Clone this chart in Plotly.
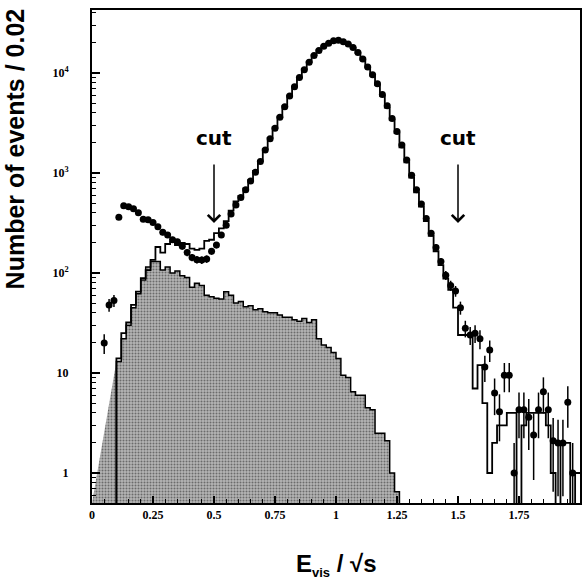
import numpy as np
import plotly.graph_objects as go

# ---------------- data ----------------
BIN = 0.02

# Data points: bin centres and counts
data_x = [0.05, 0.07, 0.09, 0.11, 0.13, 0.15, 0.17, 0.19, 0.21, 0.23, 0.25, 0.27, 0.29,
          0.31, 0.33, 0.35, 0.37, 0.39, 0.41, 0.43, 0.45, 0.47, 0.49, 0.51, 0.53, 0.55,
          0.57, 0.59, 0.61, 0.63, 0.65, 0.67, 0.69, 0.71, 0.73, 0.75, 0.77, 0.79, 0.81,
          0.83, 0.85, 0.87, 0.89, 0.91, 0.93, 0.95, 0.97, 0.99, 1.01, 1.03, 1.05, 1.07,
          1.09, 1.11, 1.13, 1.15, 1.17, 1.19, 1.21, 1.23, 1.25, 1.27, 1.29, 1.31, 1.33,
          1.35, 1.37, 1.39, 1.41, 1.43, 1.45, 1.47, 1.49, 1.51, 1.53, 1.55, 1.57, 1.59,
          1.61, 1.63, 1.65, 1.67, 1.69, 1.71, 1.73, 1.75, 1.77, 1.79, 1.81, 1.83, 1.85,
          1.87, 1.89, 1.91, 1.93, 1.95, 1.97]
data_y = [20, 48, 53, 360, 470, 460, 440, 400, 345, 340, 320, 290, 255,
          240, 215, 205, 185, 160, 143, 136, 135, 138, 165, 190, 240, 300,
          390, 480, 570, 680, 830, 1020, 1300, 1700, 2200, 2800, 3600, 4600, 5900,
          7300, 9000, 10800, 12800, 15000, 16800, 18500, 19800, 21000, 21200, 20500, 19500, 18000,
          16000, 13800, 11500, 9600, 7800, 6100, 4700, 3500, 2600, 1900, 1350, 950, 680,
          490, 350, 250, 180, 130, 95, 75, 66, 45, 28, 24, 25, 22,
          11.5, 17, 6.3, 4.1, 9.5, 9.5, 1, 4.3, 4.3, 3.6, 2.4, 4.3, 6.5,
          4.3, 2.1, 2, 2, 5.1, 1]

# Monte Carlo total: bin left edges and contents
mc_left = [round(0.10 + BIN * i, 2) for i in range(95)]
mc_y = [14, 25, 32, 48, 65, 89, 107, 135, 182, 160, 195, 205, 190, 200, 195, 175, 170, 175,
        210, 215, 250, 280, 330, 420, 520,
        590, 700, 850, 1050, 1320, 1720, 2250, 2850, 3650, 4650, 5950, 7300, 9000, 10900,
        12900, 15100, 16900, 18600, 19900, 21000, 21100, 20400, 19400, 17800, 15800, 13600,
        11400, 9400, 7600, 5900, 4500, 3400, 2500, 1800, 1280, 900, 640, 460, 330, 235, 165,
        120, 88, 68, 45, 24, 24, 24, 7, 12, 5, 1, 2, 3, 3, 4, 4, 0, 3, 4, 4, 4, 4, 3, 1, 0,
        2, 2, 0, 1]

# Background (shaded): leading ramp then histogram bins
bkg_ramp_x = [0.0, 0.10]
bkg_ramp_y = [0.5, 13]
bkg_left = [round(0.10 + BIN * i, 2) for i in range(58)]
bkg_y = [13, 22, 30, 45, 62, 85, 115, 130, 130, 107, 115, 100, 105, 94, 90, 72, 79, 75,
         60, 58, 56, 55, 65, 60, 50, 52, 46, 47, 43, 44, 41, 40, 40, 38, 36, 36, 34, 33,
         35, 32, 34, 22, 19, 18, 16, 14, 9.5, 9, 6.5, 6, 6, 4.5, 4.3, 2.5, 2.5, 2.1, 1.0, 0.65]

cut_x = [0.5, 1.5]

x_ticks = [0, 0.25, 0.5, 0.75, 1, 1.25, 1.5, 1.75, 2]
x_ticktext = ["0", "0.25", "0.5", "0.75", "1", "1.25", "1.5", "1.75", "2"]
y_ticks = [1, 10, 100, 1000, 10000]
y_ticktext = ["1", "10", "10<sup>2</sup>", "10<sup>3</sup>", "10<sup>4</sup>"]

# ---------------- helpers ----------------
FLOOR = 0.05  # empty bins drawn below the axis


def steps(left, vals):
    xs, ys = [], []
    for l, v in zip(left, vals):
        v = v if v > 0 else FLOOR
        xs += [l, round(l + BIN, 3)]
        ys += [v, v]
    return xs, ys


fig = go.Figure()

# shaded background
bx, by = steps(bkg_left, bkg_y)
fig.add_trace(go.Scatter(
    x=bkg_ramp_x + bx + [bx[-1]], y=bkg_ramp_y + by + [FLOOR],
    mode="lines", line=dict(width=0, color="black"),
    fill="tozeroy", fillcolor="rgba(0,0,0,0)",
    fillpattern=dict(shape=".", size=3, solidity=0.35, fgcolor="#222222", bgcolor="#b4b4b4"),
    hoverinfo="skip", showlegend=False))
fig.add_trace(go.Scatter(
    x=[bx[0]] + bx + [bx[-1]], y=[FLOOR] + by + [FLOOR], mode="lines",
    line=dict(color="black", width=1.5), hoverinfo="skip", showlegend=False))

# MC total step line
mx, my = steps(mc_left, mc_y)
fig.add_trace(go.Scatter(
    x=[mx[0]] + mx, y=[FLOOR] + my, mode="lines",
    line=dict(color="black", width=1.8), hoverinfo="skip", showlegend=False))

# data points
dy = np.array(data_y, dtype=float)
fig.add_trace(go.Scatter(
    x=data_x, y=dy, mode="markers",
    marker=dict(color="black", size=7),
    error_y=dict(type="data", array=np.sqrt(dy), arrayminus=np.minimum(np.sqrt(dy), dy * 0.999),
                 color="black", thickness=1.5, width=0),
    showlegend=False))

# cut arrows and labels
for cx in cut_x:
    fig.add_annotation(x=cx, y=2.5, ax=cx, ay=3.1, xref="x", yref="y", axref="x", ayref="y",
                       showarrow=True, arrowhead=4, arrowsize=1.6, arrowwidth=1.5,
                       arrowcolor="black", text="")
    fig.add_annotation(x=cx, y=3.35, xref="x", yref="y", text="<b>cut</b>", showarrow=False,
                       font=dict(family="DejaVu Sans", size=20, color="black"))

# axis titles as annotations
fig.add_annotation(
    text="<b>Number of events / 0.02</b>", textangle=-90, showarrow=False,
    xref="paper", yref="paper", x=-0.157, y=0.718, xanchor="center", yanchor="middle",
    font=dict(family="Liberation Sans", size=25, color="black"))
fig.add_annotation(
    text="<b>E<sub><span style='font-size:13px'>vis</span></sub> / √s</b>", showarrow=False,
    xref="paper", yref="paper", x=0.502, y=-0.125, xanchor="center", yanchor="middle",
    font=dict(family="Liberation Sans", size=24, color="black"))

tickfont = dict(family="Liberation Serif", size=12, color="black", weight="bold")

fig.update_xaxes(
    range=[0, 2], tickvals=x_ticks, ticktext=x_ticktext, tickfont=tickfont,
    ticks="inside", ticklen=7, tickwidth=1.5, tickcolor="black",
    minor=dict(dtick=0.05, tick0=0, ticks="inside", ticklen=4, tickwidth=1, tickcolor="black"),
    showline=True, linewidth=2, linecolor="black", mirror=True,
    showgrid=False, zeroline=False)

minor_vals = [m * 10 ** k for k in range(-1, 5) for m in range(2, 10)]
fig.update_yaxes(
    type="log", range=[-0.3, 4.63], tickvals=y_ticks, ticktext=y_ticktext, tickfont=tickfont,
    ticks="inside", ticklen=8, tickwidth=1.5, tickcolor="black", ticklabelstandoff=19,
    minor=dict(tickvals=minor_vals, ticks="inside", ticklen=4, tickwidth=1, tickcolor="black"),
    showline=True, linewidth=2, linecolor="black", mirror=True,
    showgrid=False, zeroline=False)

fig.update_layout(
    width=582, height=581,
    margin=dict(l=92, r=0, t=10, b=78),
    paper_bgcolor="white", plot_bgcolor="white",
    showlegend=False)

fig.write_html("out.html")
